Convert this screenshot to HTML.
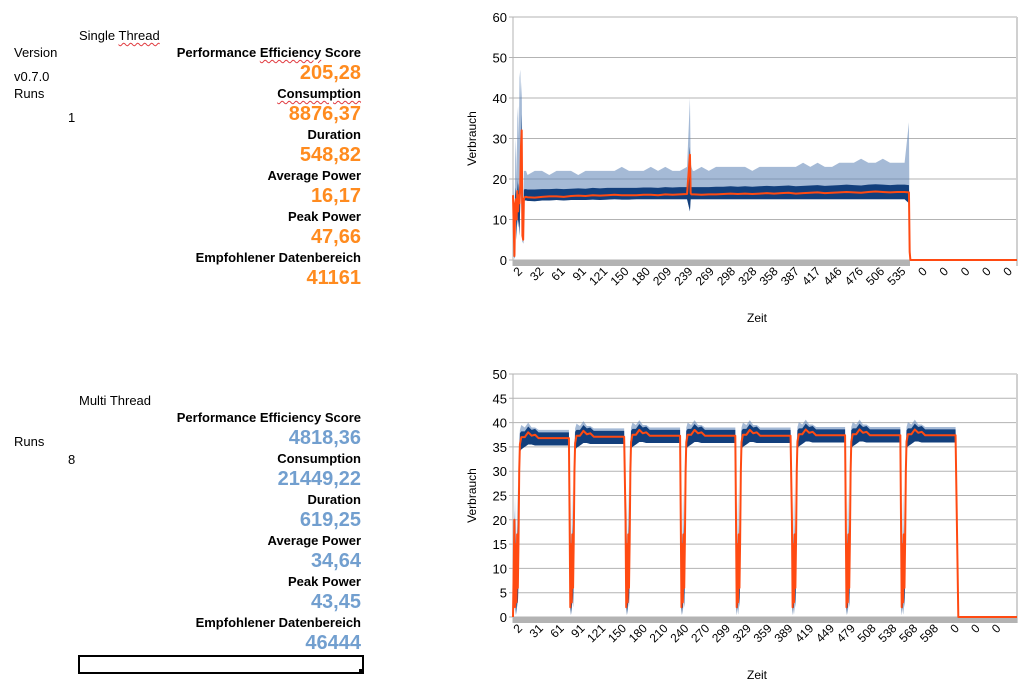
<!DOCTYPE html>
<html><head><meta charset="utf-8">
<style>
body{margin:0;width:1035px;height:692px;background:#fff;position:relative;overflow:hidden;font-family:"Liberation Sans",sans-serif;}
.t{position:absolute;font-size:13px;color:#000;white-space:nowrap;line-height:15px;}
.r{text-align:right;right:674px;}
.b{font-weight:bold;}
.v{position:absolute;right:674px;font-size:20px;font-weight:bold;line-height:22px;white-space:nowrap;}
.o{color:#ff8b1f}.bl{color:#729fcf}
.w{text-decoration:underline wavy #e0393e;text-decoration-thickness:1px;text-underline-offset:2px;}
svg{position:absolute;left:0;top:0;}
</style></head><body>
<div class="t" style="left:79px;top:28px">Single <span class="w">Thread</span></div>
<div class="t" style="left:14px;top:45px">Version</div>
<div class="t r b" style="top:45px">Performance <span class="w">Efficiency</span> Score</div>
<div class="t" style="left:14px;top:69px">v0.7.0</div>
<div class="v o" style="top:62px">205,28</div>
<div class="t" style="left:14px;top:86px">Runs</div>
<div class="t r b" style="top:86px"><span class="w">Consumption</span></div>
<div class="t" style="left:68px;top:110px">1</div>
<div class="v o" style="top:103px">8876,37</div>
<div class="t r b" style="top:127px">Duration</div>
<div class="v o" style="top:144px">548,82</div>
<div class="t r b" style="top:168px">Average Power</div>
<div class="v o" style="top:185px">16,17</div>
<div class="t r b" style="top:209px">Peak Power</div>
<div class="v o" style="top:226px">47,66</div>
<div class="t r b" style="top:250px">Empfohlener Datenbereich</div>
<div class="v o" style="top:267px">41161</div>

<div class="t" style="left:79px;top:393px">Multi Thread</div>
<div class="t r b" style="top:410px">Performance Efficiency Score</div>
<div class="v bl" style="top:427px">4818,36</div>
<div class="t" style="left:14px;top:434px">Runs</div>
<div class="t r b" style="top:451px">Consumption</div>
<div class="t" style="left:68px;top:452px">8</div>
<div class="v bl" style="top:468px">21449,22</div>
<div class="t r b" style="top:492px">Duration</div>
<div class="v bl" style="top:509px">619,25</div>
<div class="t r b" style="top:533px">Average Power</div>
<div class="v bl" style="top:550px">34,64</div>
<div class="t r b" style="top:574px">Peak Power</div>
<div class="v bl" style="top:591px">43,45</div>
<div class="t r b" style="top:615px">Empfohlener Datenbereich</div>
<div class="v bl" style="top:632px">46444</div>
<div style="position:absolute;left:78px;top:655px;width:282px;height:15px;border:2px solid #000"></div>
<div style="position:absolute;left:359px;top:669px;width:5px;height:5px;background:#000"></div>

<svg id="chart" width="1035" height="692"></svg>
<script>
// ---- Top chart data (single thread) ----
const t1 = [0,1,2,3,4,5,6,7,8,9,10,11,12,13,14,15,16,18,20,30,40,50,60,70,80,90,100,110,120,130,140,150,160,170,180,190,200,210,220,230,240,244,245,246,248,250,260,270,280,290,300,310,320,330,340,350,360,370,380,390,400,410,420,430,440,450,460,470,480,490,500,510,520,530,540,546,547,548,549,695];
const avg1 = [16,8,1,14,15,10,17,12,16,14,18,28,32,6,5,15,15.5,15.6,15.5,15.4,15.6,15.7,15.7,15.6,15.8,15.9,15.8,16,15.9,16,16.1,16,16,16,16.1,16.1,16,16.2,16.1,16.2,16.3,26,16.5,16.2,16.2,16.2,16.1,16.2,16.2,16.3,16.4,16.3,16.4,16.3,16.4,16.5,16.4,16.5,16.6,16.4,16.5,16.6,16.7,16.5,16.6,16.7,16.8,16.7,16.6,16.8,16.9,16.8,16.7,16.8,16.8,16.7,2,0,0,0];
const hi1 = [20,15,3,25,30,20,35,38,30,45,47,40,44,20,10,22,22,22,21,22,22,21,22,22,22,21,22,22,22,22,22,23,22,22,22,23,22,23,22,22,23,40,24,23,22,22,23,22,23,23,23,23,23,22,23,23,23,23,23,23,24,23,24,23,23,24,24,24,25,24,24,25,24,24,24,34,3,0,0,0];
const lo1 = [14,1,0.3,8,12,5,12,8,10,6,14,20,10,5,4,14.5,14.7,14.7,14.6,14.5,14.7,14.7,14.8,14.7,14.8,14.8,14.8,14.9,14.8,14.9,15,14.9,14.9,15,15,15,15,15,15,15,15,12,15,15,15,15,15,15,15,15,15,15,15,15,15,15,15,15,15,15,15,15,15,15,15,15,15,15,15,15,15,15,15,15,15,14,0.5,0,0,0];
const dhi1 = [17,10,2,16,18,13,20,16,19,17,20,30,36,9,7,17.3,17.5,17.5,17.4,17.4,17.5,17.5,17.6,17.5,17.6,17.7,17.6,17.8,17.7,17.8,17.8,17.8,17.8,17.8,17.9,17.9,17.8,18,17.9,18,18,28,18.2,18,18,18,18,18,18.1,18.1,18.2,18.1,18.2,18.1,18.2,18.3,18.2,18.3,18.4,18.2,18.3,18.4,18.5,18.3,18.4,18.5,18.6,18.5,18.4,18.6,18.7,18.6,18.5,18.6,18.6,18.5,2.5,0,0,0];
const xlab1 = ["2","32","61","91","121","150","180","209","239","269","298","328","358","387","417","446","476","506","535","0","0","0","0","0"];
const yticks1 = [0,10,20,30,40,50,60];
// ---- Bottom chart data (multi thread) ----
const runStart2 = [2,82,163,243,323,404,482,562];
const runLevel2 = [36.8,37.1,37.3,37.3,37.3,37.4,37.4,37.4];
const profOff2 = [0,1,2,3,4,5,6,7,8,10,15,20,25,30,35,79];
const profAvg2 = [20,2,15,3,17,6,16,30,36,37.5,37.5,38.5,37.8,38,37.3,37.3];
const profHi2 = [25,4,25,8,27,15,28,36,39,40,39.5,40.5,39.5,39.5,39,39];
const profLo2 = [10,0.3,3,0.5,5,2,8,20,34.5,35,35.5,36,36,35.8,35.8,35.8];
const runEnd2 = 645;
const xlab2 = ["2","31","61","91","121","150","180","210","240","270","299","329","359","389","419","449","479","508","538","568","598","0","0","0"];
const yticks2 = [0,5,10,15,20,25,30,35,40,45,50];

const NS="http://www.w3.org/2000/svg";
const svg=document.getElementById('chart');
function mk(tag,attrs,parent){const e=document.createElementNS(NS,tag);for(const k in attrs)e.setAttribute(k,attrs[k]);(parent||svg).appendChild(e);return e;}

function drawChart(cfg){
  const {L,R,T,B,ymax,n,name}=cfg;
  const g=mk('g',{});
  
  
  const X=i=>L+i*(R-L)/n, Y=v=>B-v/ymax*(B-T);
  cfg.yticks.forEach(v=>{
    const gl=mk('line',{x1:L-4,x2:R,y1:Y(v),y2:Y(v),stroke:'#b3b3b3','stroke-width':1},g);
    
    
    const tx=mk('text',{x:L-6,y:Y(v)+5,'text-anchor':'end','font-size':13,fill:'#000','font-family':'Liberation Sans'},g);
    
    
    tx.textContent=v;
  });
  mk('line',{x1:L,x2:L,y1:T,y2:B+6,stroke:'#b3b3b3'},g);
  mk('line',{x1:R,x2:R,y1:T,y2:B+6,stroke:'#d0d0d0','stroke-width':2},g);
  const band=mk('rect',{x:L,y:B,width:cfg.bandEnd-L,height:6,fill:'#b3b3b3'},g);
  
  
  const s=cfg.series;
  const poly=(top,bot,fill,op,nm)=>{
    let p=s.t.map((ti,k)=>X(ti)+','+Y(top[k])).join(' ')+' '+s.t.slice().reverse().map((ti,k)=>X(ti)+','+Y(bot[bot.length-1-k])).join(' ');
    const e=mk('polygon',{points:p,fill:fill,'fill-opacity':op},g);
    
    
  };
  poly(s.hi,s.lo,'#5b82b5',0.55,'max-power-band');
  poly(s.dhi,s.lo,'#123f7c',1,'core-power-band');
  const ln=mk('polyline',{points:s.t.map((ti,k)=>X(ti)+','+Y(s.avg[k])).join(' '),fill:'none',stroke:'#ff4a12','stroke-width':2,'stroke-linejoin':'round'},g);
  
  
  const last=s.t[s.t.length-1];
  mk('line',{x1:X(last),x2:R,y1:B,y2:B,stroke:'#ff4a12','stroke-width':2},g);
  cfg.xlab.forEach((lb,k)=>{
    const x=L+10+k*cfg.labStep, y=B+12;
    const tx=mk('text',{x:x,y:y,'text-anchor':'end','font-size':12,'font-family':'Liberation Sans',transform:`rotate(-45 ${x} ${y})`},g);
    
    
    tx.textContent=lb;
  });
  const yt=mk('text',{x:0,y:0,'text-anchor':'middle','font-size':12,'font-family':'Liberation Sans',transform:`translate(${L-37},${(T+B)/2}) rotate(-90)`},g);
  
  
  yt.textContent='Verbrauch';
  const xt=mk('text',{x:(L+R)/2-8,y:B+62,'text-anchor':'middle','font-size':12,'font-family':'Liberation Sans'},g);
  
  
  xt.textContent='Zeit';
}

drawChart({name:'single-thread-chart',L:513,R:1017,T:17,B:260,ymax:60,n:695,yticks:yticks1,xlab:xlab1,labStep:21.3,bandEnd:910,
  series:{t:t1,avg:avg1,hi:hi1,lo:lo1,dhi:dhi1}});

// build multi-thread series from run profile
const t2=[0],a2=[0],h2=[0],l2=[0],d2=[0];
runStart2.forEach((st,r)=>{
  const end = r<runStart2.length-1 ? runStart2[r+1] : runEnd2;
  const shift = runLevel2[r]-37.3;
  profOff2.forEach((o,k)=>{
    const ti=Math.min(st+o,end-1);
    if(ti<=t2[t2.length-1]) return;
    const plateau = o>=8;
    t2.push(ti);
    a2.push(profAvg2[k]+(plateau?shift:0));
    h2.push(profHi2[k]+(plateau?shift:0));
    l2.push(profLo2[k]+(plateau?shift:0));
    d2.push(plateau?Math.max(profAvg2[k]+1.2+shift,38.3+shift):profAvg2[k]+2);
  });
});
t2.push(runEnd2); a2.push(0); h2.push(0); l2.push(0); d2.push(0);
t2.push(730); a2.push(0); h2.push(0); l2.push(0); d2.push(0);

drawChart({name:'multi-thread-chart',L:513,R:1017,T:374,B:617,ymax:50,n:730,yticks:yticks2,xlab:xlab2,labStep:20.8,bandEnd:1017,
  series:{t:t2,avg:a2,hi:h2,lo:l2,dhi:d2}});
</script>
</body></html>
